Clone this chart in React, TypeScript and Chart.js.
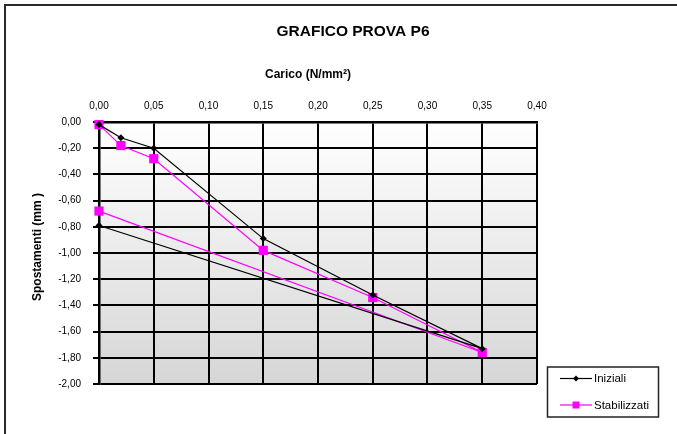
import React, { useEffect, useRef } from "react";
import { Chart, registerables } from "chart.js";

Chart.register(...registerables);

const carico = [0, 0.02, 0.05, 0.15, 0.25, 0.35, 0];
const iniziali = [-0.02, -0.12, -0.2, -0.89, -1.32, -1.73, -0.79];
const stabilizzati = [-0.02, -0.18, -0.28, -0.98, -1.34, -1.76, -0.68];
const seriesNames = ["Iniziali", "Stabilizzati"];
const chartTitle = "GRAFICO PROVA P6";
const xTitle = "Carico (N/mm²)";
const yTitle = "Spostamenti (mm )";

const FONT = "'Liberation Sans', Arial, sans-serif";
const fmt = (v: number) => Number(v).toFixed(2).replace(".", ",");

const bgPlugin = {
  id: "bgGradient",
  beforeDraw(chart: any) {
    const { ctx, chartArea } = chart;
    const { left, top, right, bottom } = chartArea;
    ctx.save();
    ctx.fillStyle = "#ffffff";
    ctx.fillRect(0, 0, chart.width, chart.height);
    const g = ctx.createLinearGradient(0, top, 0, bottom);
    g.addColorStop(0, "#ffffff");
    g.addColorStop(1, "#d6d6d6");
    ctx.fillStyle = g;
    ctx.fillRect(left, top, right - left, bottom - top);
    ctx.restore();
  },
};

const decoPlugin = {
  id: "deco",
  afterDraw(chart: any) {
    const { ctx } = chart;
    ctx.save();
    // outer frame
    ctx.strokeStyle = "#2a2a2a";
    ctx.lineWidth = 2;
    ctx.strokeRect(5, 5, 720, 480);
    // titles
    ctx.fillStyle = "#000";
    ctx.textAlign = "center";
    ctx.textBaseline = "middle";
    ctx.font = `bold 15.5px ${FONT}`;
    ctx.fillText(chartTitle, 353, 32);
    ctx.font = `bold 12px ${FONT}`;
    ctx.fillText(xTitle, 308, 75);
    ctx.save();
    ctx.translate(38, 247);
    ctx.rotate(-Math.PI / 2);
    ctx.font = `bold 12px ${FONT}`;
    ctx.fillText(yTitle, 0, 0);
    ctx.restore();
    // legend box
    ctx.strokeStyle = "#222";
    ctx.lineWidth = 1.5;
    ctx.strokeRect(547.5, 367, 111, 50);
    const items = [
      { name: seriesNames[0], color: "#000000", y: 378.5, style: "diamond" },
      { name: seriesNames[1], color: "#ff00ff", y: 405, style: "square" },
    ];
    items.forEach((it) => {
      ctx.strokeStyle = it.color;
      ctx.lineWidth = 1.2;
      ctx.beginPath();
      ctx.moveTo(560, it.y);
      ctx.lineTo(592, it.y);
      ctx.stroke();
      ctx.fillStyle = it.color;
      if (it.style === "diamond") {
        ctx.beginPath();
        ctx.moveTo(576, it.y - 3);
        ctx.lineTo(579, it.y);
        ctx.lineTo(576, it.y + 3);
        ctx.lineTo(573, it.y);
        ctx.closePath();
        ctx.fill();
      } else {
        ctx.fillRect(572.5, it.y - 3.5, 7, 7);
      }
      ctx.fillStyle = "#000";
      ctx.textAlign = "left";
      ctx.font = `11.5px ${FONT}`;
      ctx.fillText(it.name, 594, it.y + 0.5);
    });
    ctx.restore();
  },
};

export default function App() {
  const ref = useRef<HTMLCanvasElement>(null);
  useEffect(() => {
    if (!ref.current) return;
    const mk = (ys: number[]) => carico.map((x, i) => ({ x, y: ys[i] }));
    const chart = new Chart(ref.current, {
      type: "line",
      data: {
        datasets: [
          {
            label: seriesNames[0],
            data: mk(iniziali),
            borderColor: "#000000",
            backgroundColor: "#000000",
            borderWidth: 1.2,
            pointStyle: "rectRot",
            pointRadius: 3.5,
            pointBorderWidth: 0,
            tension: 0,
            clip: false,
          },
          {
            label: seriesNames[1],
            data: mk(stabilizzati),
            borderColor: "#ff00ff",
            backgroundColor: "#ff00ff",
            borderWidth: 1.2,
            pointStyle: "rect",
            pointRadius: 6.5,
            pointBorderWidth: 0,
            tension: 0,
            clip: false,
          },
        ],
      },
      options: {
        responsive: false,
        animation: false,
        layout: { padding: { left: 0, top: 0, right: 140, bottom: 50 } },
        plugins: {
          legend: { display: false },
          title: { display: false },
          tooltip: { enabled: false },
        },
        scales: {
          x: {
            type: "linear",
            position: "top",
            min: 0,
            max: 0.4,
            afterFit: (s: any) => {
              s.height = 122;
            },
            ticks: {
              stepSize: 0.05,
              padding: 10,
              color: "#000",
              font: { family: FONT, size: 10 },
              callback: (v: any) => fmt(v),
              maxRotation: 0,
            },
            grid: { color: "#000", lineWidth: 2, drawTicks: false },
            border: { color: "#000", width: 2.5 },
          },
          y: {
            type: "linear",
            min: -2,
            max: 0,
            afterFit: (s: any) => {
              s.width = 99;
            },
            ticks: {
              stepSize: 0.2,
              padding: 12,
              color: "#000",
              font: { family: FONT, size: 10 },
              callback: (v: any) => fmt(v),
            },
            grid: { color: "#000", lineWidth: 2, drawTicks: true, tickLength: 6 },
            border: { color: "#000", width: 2.5 },
          },
        },
      },
      plugins: [bgPlugin, decoPlugin],
    } as any);
    return () => chart.destroy();
  }, []);
  return (
    <div style={{ position: "absolute", left: 0, top: 0, width: 677, height: 434 }}>
      <canvas ref={ref} width={677} height={434} style={{ display: "block" }} />
    </div>
  );
}
